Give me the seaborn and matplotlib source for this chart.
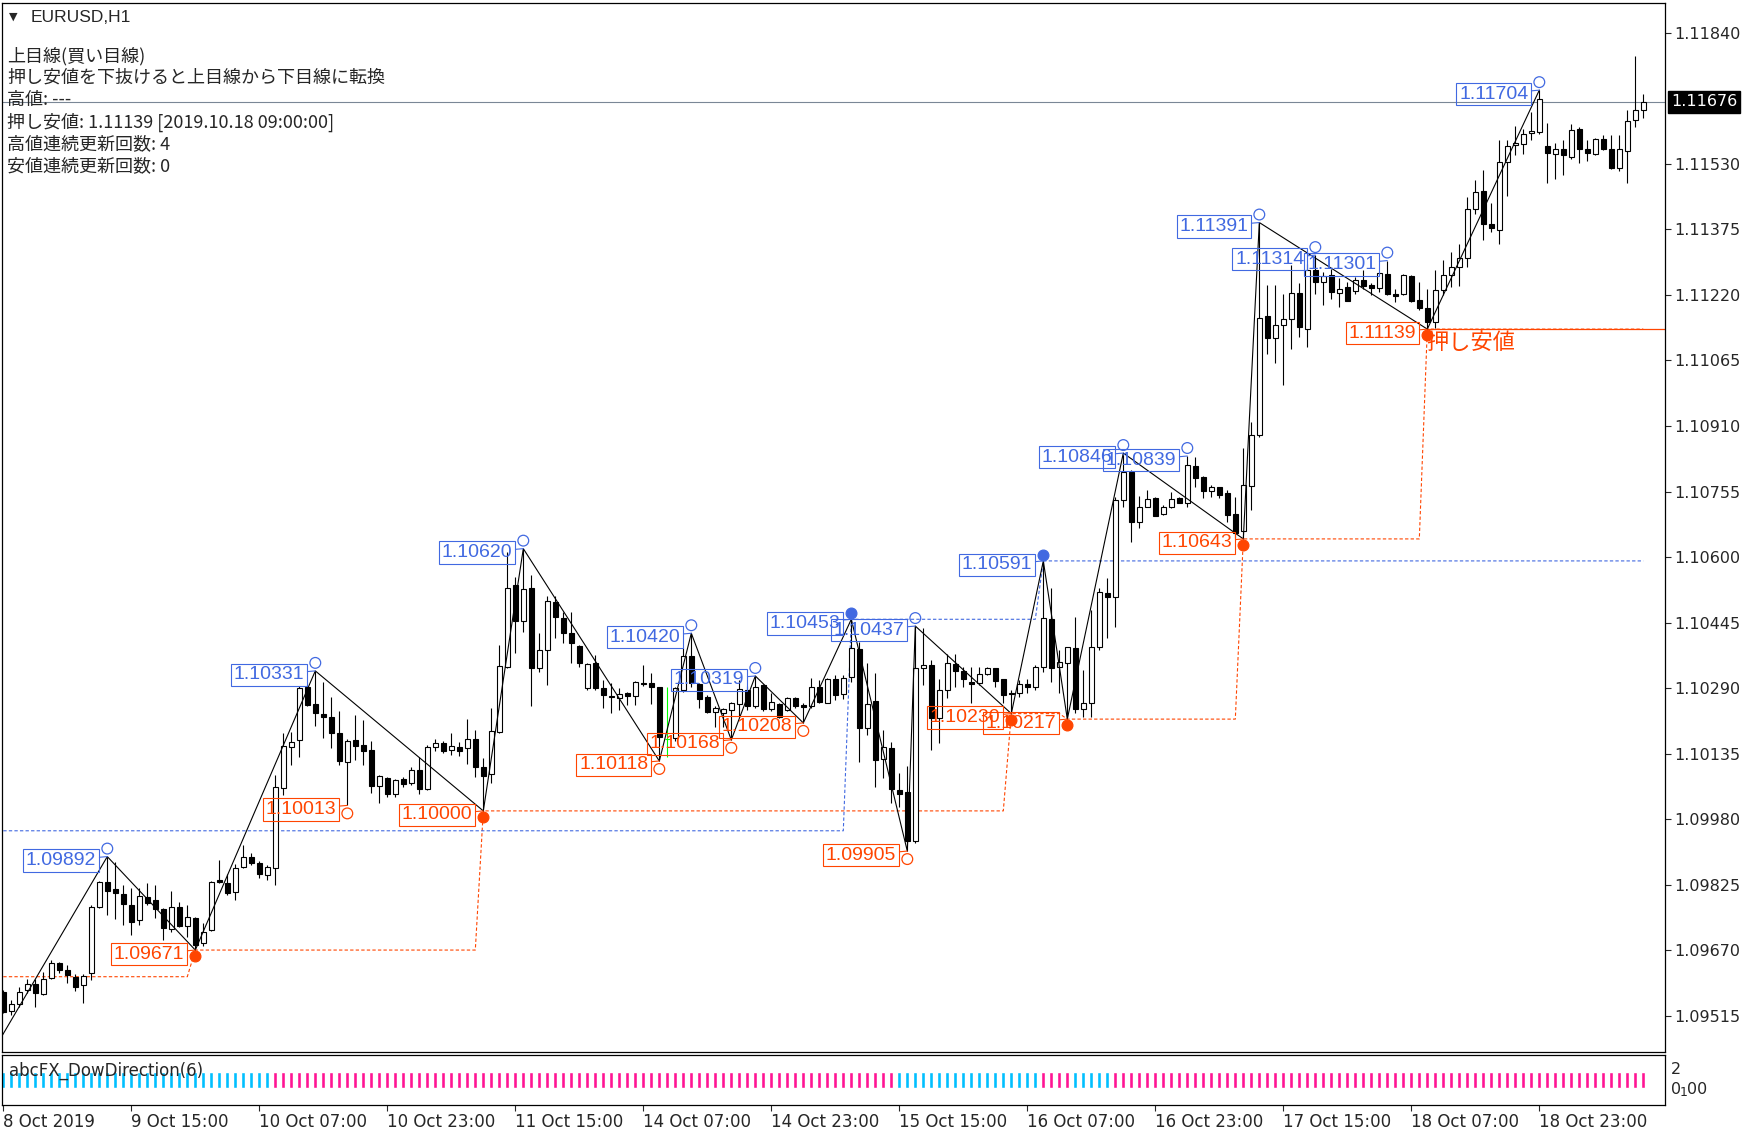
import numpy as np
import matplotlib
matplotlib.use("Agg")
import matplotlib.pyplot as plt
import matplotlib.transforms as mtransforms
import seaborn as sns

# EURUSD H1 bars, first bar = 8 Oct 2019 23:00
opens = [
    1.09572, 1.09528, 1.09543, 1.09576, 1.09590, 1.09567, 1.09604, 1.09641, 1.09625, 1.09608,
    1.09588, 1.09616, 1.09773, 1.09831, 1.09815, 1.09803, 1.09777, 1.09742, 1.09797, 1.09789,
    1.09767, 1.09720, 1.09772, 1.09728, 1.09747, 1.09687, 1.09718, 1.09836, 1.09829, 1.09809,
    1.09867, 1.09890, 1.09878, 1.09848, 1.09864, 1.10053, 1.10150, 1.10168, 1.10292, 1.10252,
    1.10228, 1.10221, 1.10183, 1.10116, 1.10167, 1.10156, 1.10144, 1.10059, 1.10077, 1.10041,
    1.10075, 1.10065, 1.10097, 1.10051, 1.10150, 1.10161, 1.10144, 1.10152, 1.10148, 1.10170,
    1.10103, 1.10088, 1.10187, 1.10341, 1.10534, 1.10448, 1.10526, 1.10337, 1.10381, 1.10495,
    1.10455, 1.10420, 1.10390, 1.10290, 1.10349, 1.10291, 1.10271, 1.10266, 1.10278, 1.10272,
    1.10302, 1.10302, 1.10292, 1.10170, 1.10172, 1.10286, 1.10366, 1.10300, 1.10269, 1.10233,
    1.10232, 1.10239, 1.10252, 1.10286, 1.10247, 1.10298, 1.10240, 1.10253, 1.10239, 1.10268,
    1.10251, 1.10247, 1.10294, 1.10256, 1.10312, 1.10276, 1.10317, 1.10382, 1.10197, 1.10260,
    1.10122, 1.10148, 1.10049, 1.10045, 1.09928, 1.10339, 1.10345, 1.10219, 1.10287, 1.10347,
    1.10331, 1.10304, 1.10302, 1.10324, 1.10337, 1.10311, 1.10279, 1.10279, 1.10300, 1.10292,
    1.10341, 1.10454, 1.10341, 1.10349, 1.10384, 1.10240, 1.10256, 1.10388, 1.10516, 1.10506,
    1.10736, 1.10802, 1.10684, 1.10719, 1.10739, 1.10703, 1.10718, 1.10739, 1.10729, 1.10815,
    1.10790, 1.10757, 1.10765, 1.10751, 1.10703, 1.10662, 1.10768, 1.10888, 1.11170, 1.11119,
    1.11148, 1.11162, 1.11225, 1.11140, 1.11278, 1.11251, 1.11266, 1.11225, 1.11239, 1.11229,
    1.11255, 1.11243, 1.11237, 1.11270, 1.11221, 1.11222, 1.11264, 1.11207, 1.11188, 1.11156,
    1.11231, 1.11266, 1.11286, 1.11308, 1.11422, 1.11466, 1.11387, 1.11373, 1.11534, 1.11574,
    1.11576, 1.11603, 1.11605, 1.11571, 1.11553, 1.11564, 1.11546, 1.11613, 1.11566, 1.11554,
    1.11589, 1.11564, 1.11521, 1.11560, 1.11634, 1.11657,
]
highs = [
    1.09577, 1.09553, 1.09584, 1.09602, 1.09602, 1.09620, 1.09647, 1.09643, 1.09636, 1.09614,
    1.09614, 1.09777, 1.09834, 1.09892, 1.09880, 1.09825, 1.09817, 1.09817, 1.09829, 1.09825,
    1.09770, 1.09811, 1.09785, 1.09777, 1.09750, 1.09734, 1.09834, 1.09884, 1.09852, 1.09875,
    1.09919, 1.09900, 1.09882, 1.09872, 1.10085, 1.10185, 1.10187, 1.10295, 1.10298, 1.10331,
    1.10305, 1.10270, 1.10235, 1.10169, 1.10227, 1.10215, 1.10166, 1.10085, 1.10081, 1.10075,
    1.10079, 1.10104, 1.10128, 1.10156, 1.10169, 1.10165, 1.10185, 1.10164, 1.10217, 1.10191,
    1.10125, 1.10243, 1.10393, 1.10613, 1.10554, 1.10620, 1.10558, 1.10420, 1.10507, 1.10507,
    1.10471, 1.10471, 1.10392, 1.10349, 1.10369, 1.10310, 1.10302, 1.10290, 1.10280, 1.10306,
    1.10345, 1.10325, 1.10294, 1.10292, 1.10294, 1.10384, 1.10420, 1.10302, 1.10274, 1.10247,
    1.10243, 1.10258, 1.10310, 1.10295, 1.10319, 1.10299, 1.10278, 1.10254, 1.10270, 1.10270,
    1.10254, 1.10314, 1.10310, 1.10314, 1.10321, 1.10321, 1.10453, 1.10400, 1.10349, 1.10325,
    1.10191, 1.10164, 1.10089, 1.10105, 1.10437, 1.10432, 1.10357, 1.10313, 1.10372, 1.10372,
    1.10341, 1.10341, 1.10341, 1.10341, 1.10337, 1.10313, 1.10286, 1.10309, 1.10313, 1.10345,
    1.10591, 1.10526, 1.10380, 1.10388, 1.10459, 1.10333, 1.10475, 1.10526, 1.10550, 1.10743,
    1.10846, 1.10806, 1.10744, 1.10759, 1.10741, 1.10723, 1.10755, 1.10743, 1.10839, 1.10837,
    1.10792, 1.10770, 1.10766, 1.10759, 1.10743, 1.10857, 1.10920, 1.11391, 1.11243, 1.11243,
    1.11223, 1.11290, 1.11247, 1.11294, 1.11314, 1.11274, 1.11282, 1.11261, 1.11251, 1.11262,
    1.11278, 1.11247, 1.11274, 1.11301, 1.11235, 1.11270, 1.11266, 1.11251, 1.11235, 1.11278,
    1.11302, 1.11322, 1.11341, 1.11452, 1.11491, 1.11515, 1.11436, 1.11586, 1.11587, 1.11619,
    1.11613, 1.11653, 1.11704, 1.11627, 1.11578, 1.11587, 1.11623, 1.11616, 1.11586, 1.11592,
    1.11597, 1.11597, 1.11597, 1.11657, 1.11784, 1.11694,
]
lows = [
    1.09523, 1.09517, 1.09537, 1.09569, 1.09537, 1.09565, 1.09602, 1.09616, 1.09592, 1.09575,
    1.09545, 1.09600, 1.09770, 1.09754, 1.09744, 1.09730, 1.09707, 1.09730, 1.09777, 1.09746,
    1.09695, 1.09714, 1.09726, 1.09702, 1.09671, 1.09681, 1.09717, 1.09829, 1.09801, 1.09789,
    1.09864, 1.09872, 1.09841, 1.09837, 1.09825, 1.10038, 1.10108, 1.10127, 1.10248, 1.10201,
    1.10172, 1.10148, 1.10108, 1.10013, 1.10120, 1.10108, 1.10043, 1.10018, 1.10034, 1.10034,
    1.10057, 1.10061, 1.10040, 1.10049, 1.10142, 1.10138, 1.10132, 1.10130, 1.10111, 1.10081,
    1.10000, 1.10065, 1.10184, 1.10337, 1.10373, 1.10424, 1.10247, 1.10329, 1.10298, 1.10408,
    1.10396, 1.10349, 1.10341, 1.10286, 1.10286, 1.10243, 1.10232, 1.10239, 1.10251, 1.10251,
    1.10295, 1.10253, 1.10118, 1.10128, 1.10165, 1.10280, 1.10294, 1.10243, 1.10231, 1.10199,
    1.10199, 1.10168, 1.10223, 1.10239, 1.10243, 1.10235, 1.10237, 1.10219, 1.10235, 1.10243,
    1.10208, 1.10243, 1.10254, 1.10254, 1.10262, 1.10265, 1.10305, 1.10116, 1.10179, 1.10057,
    1.10077, 1.10018, 1.10010, 1.09905, 1.09923, 1.10298, 1.10144, 1.10160, 1.10266, 1.10294,
    1.10294, 1.10254, 1.10298, 1.10321, 1.10294, 1.10254, 1.10230, 1.10270, 1.10278, 1.10286,
    1.10329, 1.10305, 1.10278, 1.10217, 1.10231, 1.10223, 1.10223, 1.10380, 1.10408, 1.10435,
    1.10719, 1.10636, 1.10668, 1.10718, 1.10697, 1.10699, 1.10715, 1.10727, 1.10718, 1.10766,
    1.10739, 1.10741, 1.10739, 1.10684, 1.10644, 1.10643, 1.10711, 1.10884, 1.11081, 1.11059,
    1.11006, 1.11093, 1.11121, 1.11097, 1.11223, 1.11195, 1.11211, 1.11192, 1.11205, 1.11223,
    1.11235, 1.11219, 1.11227, 1.11219, 1.11203, 1.11219, 1.11203, 1.11185, 1.11139, 1.11142,
    1.11219, 1.11239, 1.11240, 1.11286, 1.11412, 1.11349, 1.11369, 1.11341, 1.11453, 1.11550,
    1.11554, 1.11586, 1.11600, 1.11485, 1.11493, 1.11503, 1.11542, 1.11532, 1.11537, 1.11550,
    1.11562, 1.11518, 1.11513, 1.11485, 1.11616, 1.11637,
]
closes = [
    1.09525, 1.09543, 1.09572, 1.09590, 1.09569, 1.09602, 1.09641, 1.09624, 1.09611, 1.09584,
    1.09610, 1.09773, 1.09831, 1.09811, 1.09805, 1.09779, 1.09738, 1.09799, 1.09783, 1.09767,
    1.09722, 1.09773, 1.09728, 1.09750, 1.09683, 1.09714, 1.09833, 1.09832, 1.09807, 1.09866,
    1.09892, 1.09876, 1.09851, 1.09867, 1.10056, 1.10154, 1.10164, 1.10291, 1.10250, 1.10232,
    1.10223, 1.10183, 1.10119, 1.10165, 1.10154, 1.10142, 1.10060, 1.10083, 1.10041, 1.10073,
    1.10063, 1.10097, 1.10051, 1.10152, 1.10161, 1.10142, 1.10153, 1.10142, 1.10170, 1.10103,
    1.10083, 1.10190, 1.10343, 1.10528, 1.10448, 1.10524, 1.10337, 1.10381, 1.10497, 1.10458,
    1.10420, 1.10396, 1.10349, 1.10347, 1.10290, 1.10273, 1.10269, 1.10276, 1.10272, 1.10304,
    1.10299, 1.10292, 1.10174, 1.10170, 1.10290, 1.10366, 1.10302, 1.10264, 1.10233, 1.10243,
    1.10240, 1.10254, 1.10288, 1.10248, 1.10292, 1.10240, 1.10257, 1.10223, 1.10266, 1.10248,
    1.10245, 1.10292, 1.10258, 1.10311, 1.10273, 1.10315, 1.10384, 1.10197, 1.10253, 1.10120,
    1.10150, 1.10051, 1.10041, 1.09928, 1.10337, 1.10345, 1.10219, 1.10286, 1.10349, 1.10331,
    1.10311, 1.10299, 1.10324, 1.10337, 1.10308, 1.10274, 1.10276, 1.10300, 1.10292, 1.10341,
    1.10455, 1.10339, 1.10353, 1.10387, 1.10240, 1.10256, 1.10388, 1.10518, 1.10505, 1.10736,
    1.10802, 1.10684, 1.10719, 1.10737, 1.10698, 1.10718, 1.10737, 1.10729, 1.10818, 1.10788,
    1.10757, 1.10765, 1.10747, 1.10699, 1.10656, 1.10770, 1.10888, 1.11166, 1.11117, 1.11148,
    1.11162, 1.11225, 1.11143, 1.11278, 1.11251, 1.11265, 1.11227, 1.11235, 1.11206, 1.11256,
    1.11240, 1.11237, 1.11272, 1.11222, 1.11218, 1.11266, 1.11206, 1.11188, 1.11156, 1.11231,
    1.11268, 1.11286, 1.11308, 1.11422, 1.11463, 1.11387, 1.11377, 1.11534, 1.11571, 1.11578,
    1.11601, 1.11608, 1.11682, 1.11556, 1.11564, 1.11550, 1.11609, 1.11566, 1.11556, 1.11589,
    1.11564, 1.11519, 1.11564, 1.11631, 1.11658, 1.11675,
]

# swing points (bar index, price, confirmed?)
high_bars = [13, 39, 65, 86, 94, 106, 114, 130, 140, 148, 157, 164, 173, 192]
high_vals = [1.09892, 1.10331, 1.10620, 1.10420, 1.10319, 1.10453, 1.10437,
             1.10591, 1.10846, 1.10839, 1.11391, 1.11314, 1.11301, 1.11704]
high_fixed = [0, 0, 0, 0, 0, 1, 0, 1, 0, 0, 0, 0, 0, 0]
low_bars = [24, 43, 60, 82, 91, 100, 113, 126, 133, 155, 178]
low_vals = [1.09671, 1.10013, 1.10000, 1.10118, 1.10168, 1.10208, 1.09905,
            1.10230, 1.10217, 1.10643, 1.11139]
low_fixed = [1, 0, 1, 0, 0, 0, 0, 1, 1, 1, 1]

# zigzag vertices
zig_bars = [-1, 13, 24, 39, 60, 65, 82, 86, 91, 94, 100, 106, 113, 114,
            126, 130, 133, 140, 155, 157, 178, 192]
zig_vals = [1.09441, 1.09892, 1.09671, 1.10331, 1.10000, 1.10620, 1.10118,
            1.10420, 1.10168, 1.10319, 1.10208, 1.10453, 1.09905, 1.10437,
            1.10230, 1.10591, 1.10217, 1.10846, 1.10643, 1.11391, 1.11139, 1.11704]

# push-low / push-high levels (value, first bar)
low_levels = [1.09608, 1.09671, 1.10000, 1.10230, 1.10217, 1.10643, 1.11139]
low_level_starts = [0, 24, 60, 126, 133, 155, 178]
high_levels = [1.09953, 1.10453, 1.10591]
high_level_starts = [0, 106, 130]
push_low_price = 1.11139
bid_price = 1.11676

# DowDirection sub-window (run lengths)
dow_runs = [34, 78, 18, 4, 5, 67]
dow_states = ["down", "up", "down", "up", "down", "up"]

y_ticks = [1.09515, 1.09670, 1.09825, 1.09980, 1.10135, 1.10290, 1.10445, 1.10600,
           1.10755, 1.10910, 1.11065, 1.11220, 1.11375, 1.11530, 1.11840]
x_tick_bars = [0, 16, 32, 48, 64, 80, 96, 112, 128, 144, 160, 176, 192]
x_tick_labels = ["8 Oct 2019", "9 Oct 15:00", "10 Oct 07:00", "10 Oct 23:00",
                 "11 Oct 15:00", "14 Oct 07:00", "14 Oct 23:00", "15 Oct 15:00",
                 "16 Oct 07:00", "16 Oct 23:00", "17 Oct 15:00", "18 Oct 07:00",
                 "18 Oct 23:00"]

info_lines = ["上目線(買い目線)",
              "押し安値を下抜けると上目線から下目線に転換",
              "高値: ---",
              "押し安値: 1.11139 [2019.10.18 09:00:00]",
              "高値連続更新回数: 4",
              "安値連続更新回数: 0"]

sns.set_style("white")
plt.rcParams["font.family"] = ["DejaVu Sans", "Noto Sans CJK JP"]

BLUE = "#4169E1"
ORANGE = "#FF4500"
DOJI = "#00FF00"
UPC = "#FF1493"
DNC = "#00BFFF"

W, H = 1757, 1138
fig = plt.figure(figsize=(W / 100, H / 100), dpi=100)


def fx(x):
    return x / W


def fy(y):
    return 1 - y / H


ax = fig.add_axes([fx(2), fy(1052), fx(1665) - fx(2), fy(3) - fy(1052)])
sub = fig.add_axes([fx(2), fy(1105), fx(1665) - fx(2), fy(1055) - fy(1105)])

x_lim = (-0.1625, 207.71)
y_lim = (1.09430, 1.11910)
ax.set_xlim(*x_lim)
ax.set_ylim(*y_lim)
px = (y_lim[1] - y_lim[0]) / 1049.0

n = len(opens)
bars = np.arange(n)
o, h, l, c = (np.array(v) for v in (opens, highs, lows, closes))

# level lines
push_low = np.repeat(low_levels, np.diff(low_level_starts + [n]))
push_high = np.repeat(high_levels, np.diff(high_level_starts + [n]))
sns.lineplot(x=bars, y=push_low, ax=ax, color=ORANGE, lw=0.8,
             linestyle=(0, (3, 2)), estimator=None, zorder=2)
sns.lineplot(x=bars, y=push_high, ax=ax, color=BLUE, lw=0.8,
             linestyle=(0, (3, 2)), estimator=None, zorder=2)
ax.hlines(push_low_price, low_bars[-1], x_lim[1], color=ORANGE, lw=0.9, zorder=2)
ax.axhline(bid_price, color="#7a8796", lw=0.8, zorder=1)

# candles
doji = np.isclose(o, c)
wick_col = [DOJI if d else "black" for d in doji]
ax.vlines(bars, l, h, colors=wick_col, lw=0.8, zorder=3)
face = [DOJI if d else ("white" if cc > oo else "black") for d, oo, cc in zip(doji, o, c)]
edge = [DOJI if d else "black" for d in doji]
body_h = np.maximum(np.abs(c - o), px * 0.2)
ax.bar(bars, body_h, bottom=np.minimum(o, c), width=0.6, color=face,
       edgecolor=edge, linewidth=0.8, zorder=4)

# zigzag
sns.lineplot(x=zig_bars, y=zig_vals, ax=ax, color="black", lw=0.8,
             sort=False, estimator=None, zorder=5)

# swing markers + price boxes
for bars_, vals_, fixed_, col, sign in [(high_bars, high_vals, high_fixed, BLUE, 1),
                                         (low_bars, low_vals, low_fixed, ORANGE, -1)]:
    for b, v, f in zip(bars_, vals_, fixed_):
        off = (6 if f else 8) * px * sign
        ax.scatter(b, v + off, s=60, facecolors=col if f else "none",
                   edgecolors=col, linewidths=0.9, zorder=7)
        ax.annotate(f"{v:.5f}", xy=(b, v), xytext=(-11, -4), textcoords="offset pixels",
                    ha="right", va="center", fontsize=14, family="Liberation Sans",
                    color=col, zorder=6,
                    bbox=dict(boxstyle="square,pad=0.14", fc="none", ec=col, lw=0.8),
                    arrowprops=dict(arrowstyle="-", color=col, lw=0.8,
                                    shrinkA=0, shrinkB=0))

ax.annotate("押し安値", xy=(low_bars[-1], push_low_price), xytext=(-1, -2),
            textcoords="offset pixels", ha="left", va="top", fontsize=16,
            color=ORANGE, family=["Noto Sans CJK JP"], zorder=8)

# axes cosmetics
ax.yaxis.tick_right()
ax.set_yticks(y_ticks)
ax.set_yticklabels([f"{v:.5f}" for v in y_ticks])
ax.tick_params(axis="y", right=True, left=False, direction="out", length=4,
               width=0.8, pad=3, labelsize=11.5)
ax.tick_params(axis="x", bottom=False, labelbottom=False)
for s in ax.spines.values():
    s.set_color("black")
    s.set_linewidth(0.9)

trans = mtransforms.blended_transform_factory(ax.transAxes, ax.transData)
ax.text(1.0035, bid_price, f"{bid_price:.5f}", transform=trans, ha="left", va="center",
        color="white", fontsize=11.5,
        bbox=dict(boxstyle="square,pad=0.2", fc="black", ec="black"))

# sub window
dow_dir = np.repeat(dow_states, dow_runs)
sub.set_xlim(*x_lim)
sub.set_ylim(-1.12, 2.12)
sub.bar(bars, 1, width=0.5, color=[UPC if d == "up" else DNC for d in dow_dir], zorder=2)
sub.set_yticks([])
sub.set_xticks(x_tick_bars)
sub.set_xticklabels(x_tick_labels)
for lab in sub.get_xticklabels():
    lab.set_ha("left")
sub.tick_params(axis="x", bottom=True, direction="out", length=4, width=0.8,
                pad=2, labelsize=12)
for s in sub.spines.values():
    s.set_color("black")
    s.set_linewidth(0.9)
sub.text(0.004, 0.68, "abcFX_DowDirection(6)", transform=sub.transAxes,
         ha="left", va="center", fontsize=12, zorder=5)

fig.text(fx(1671), fy(1070), "2", fontsize=11.5, va="center", ha="left")
fig.text(fx(1671), fy(1090), "0", fontsize=11.5, va="center", ha="left")
fig.text(fx(1680), fy(1093), "1", fontsize=9, va="center", ha="left")
fig.text(fx(1687), fy(1090), "00", fontsize=11.5, va="center", ha="left")

# header text
fig.text(fx(9), fy(17), "▼", fontsize=8, va="center", ha="left")
fig.text(fx(31), fy(17), "EURUSD,H1", fontsize=12.5, family="Liberation Sans",
         va="center", ha="left")
for k, line in enumerate(info_lines):
    fig.text(fx(7), fy(56 + 22 * k), line, fontsize=13, va="center", ha="left",
             family=["Noto Sans CJK JP", "DejaVu Sans"])

fig.savefig("out.png", dpi=100)
